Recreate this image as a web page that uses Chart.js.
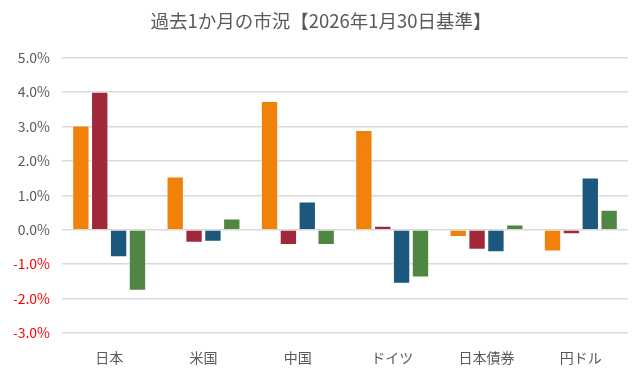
<!DOCTYPE html>
<html>
<head>
<meta charset="utf-8">
<script src="https://cdn.jsdelivr.net/npm/chart.js@4"></script>
<style>
  html, body { margin: 0; padding: 0; background: #fff; }
  #wrap { width: 643px; height: 376px; }
</style>
</head>
<body>
<div id="wrap"><canvas id="marketChart"></canvas></div>
<script>
// Data (percent)
const categories = ['日本', '米国', '中国', 'ドイツ', '日本債券', '円ドル'];
const seriesA = [3.03, 1.55, 3.74, 2.90, -0.21, -0.63];
const seriesB = [4.01, -0.38, -0.44, 0.12, -0.58, -0.13];
const seriesC = [-0.80, -0.35, 0.82, -1.57, -0.65, 1.52];
const seriesD = [-1.77, 0.33, -0.44, -1.39, 0.15, 0.58];
const yTicks = [-3, -2, -1, 0, 1, 2, 3, 4, 5];

const fontFamily = '"Noto Sans CJK JP", "Noto Sans", sans-serif';

function makeSet(label, data, color) {
  return {
    label: label,
    data: data,
    backgroundColor: color,
    borderColor: 'rgba(255,255,255,0.6)',
    borderWidth: 1,
    barPercentage: 0.92,
    categoryPercentage: 0.8
  };
}

new Chart(document.getElementById('marketChart'), {
  type: 'bar',
  data: {
    labels: categories,
    datasets: [
      makeSet('A', seriesA, '#F0820A'),
      makeSet('B', seriesB, '#A02838'),
      makeSet('C', seriesC, '#1C577D'),
      makeSet('D', seriesD, '#4F8641')
    ]
  },
  options: {
    responsive: true,
    maintainAspectRatio: false,
    animation: false,
    layout: { padding: { left: 14, right: 15, top: 0, bottom: 3 } },
    plugins: {
      legend: { display: false },
      tooltip: { enabled: false },
      title: {
        display: true,
        text: '過去1か月の市況【2026年1月30日基準】',
        color: '#595959',
        font: { family: fontFamily, size: 18.5, weight: 'normal' },
        padding: { top: 9.5, bottom: 26 }
      }
    },
    scales: {
      x: {
        grid: { display: false },
        border: { display: false },
        ticks: {
          color: '#595959',
          font: { family: fontFamily, size: 14 },
          padding: 8
        },
        afterFit: (scale) => { scale.height = 40; }
      },
      y: {
        min: -3,
        max: 5,
        afterBuildTicks: (scale) => { scale.ticks = yTicks.map(v => ({ value: v })); },
        grid: { color: '#D9D9D9', lineWidth: 1.5, drawTicks: false },
        border: { display: false },
        ticks: {
          font: { family: fontFamily, size: 14 },
          padding: 12,
          color: (ctx) => ctx.tick.value < 0 ? '#FF0000' : '#595959',
          callback: (v) => v.toFixed(1) + '%'
        },
        afterFit: (scale) => { scale.width = 48; }
      }
    }
  }
});
</script>
</body>
</html>
